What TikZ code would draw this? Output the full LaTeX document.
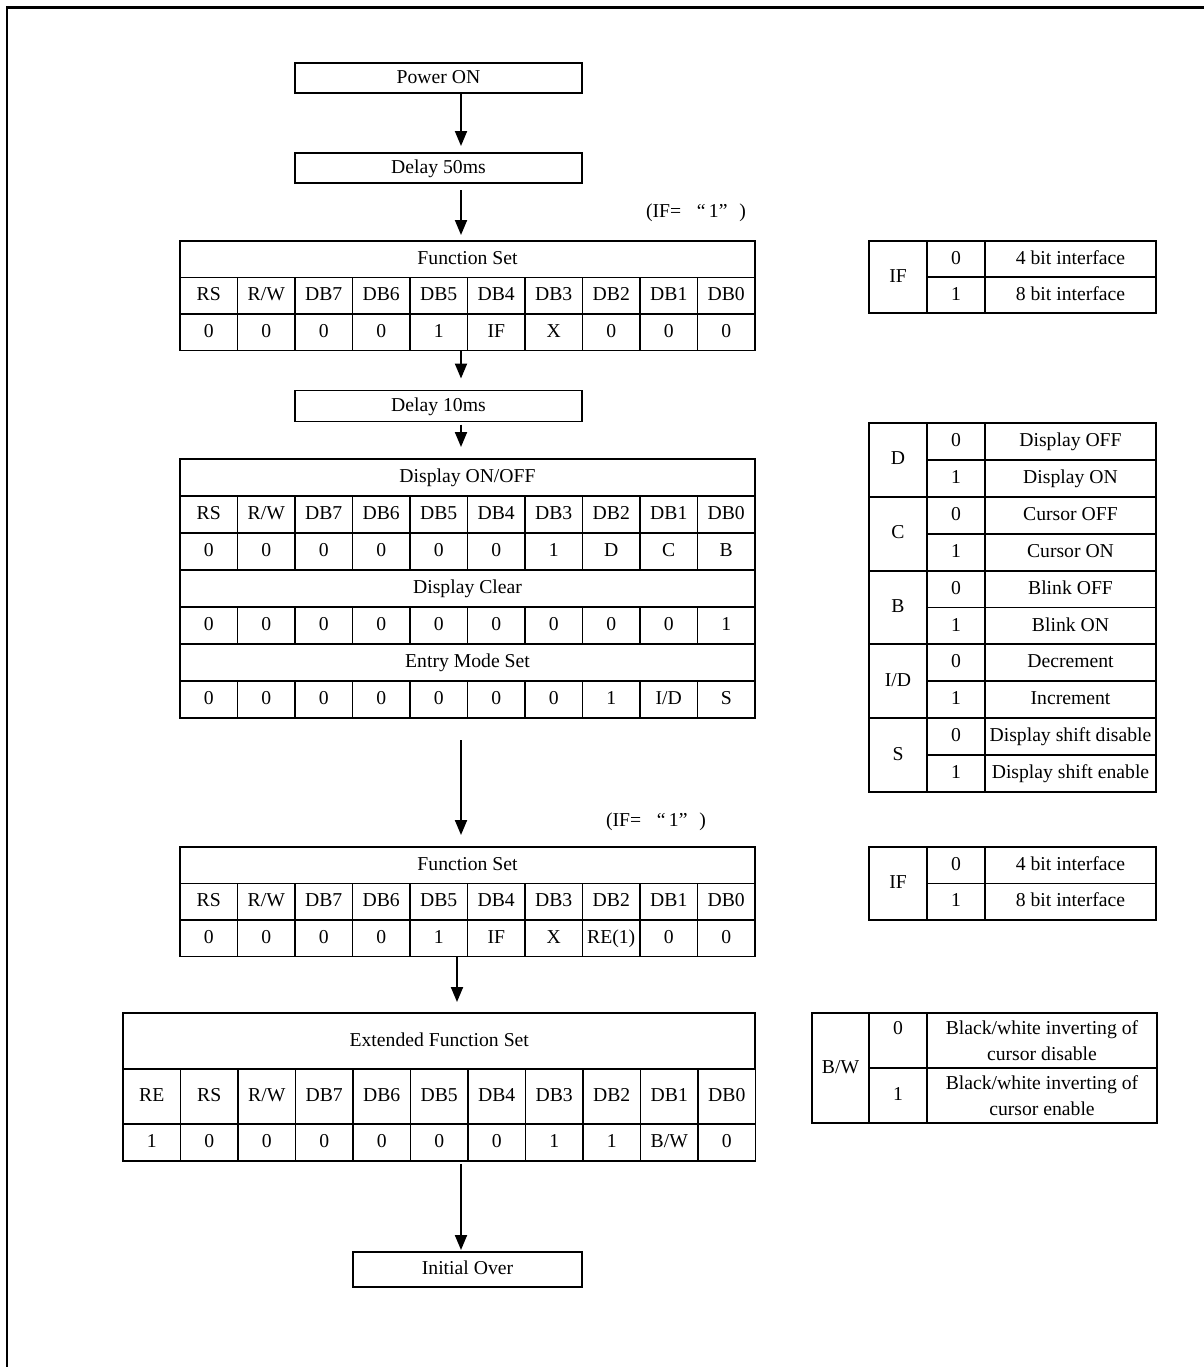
\documentclass[tikz,border=0pt]{standalone}
\usepackage{fontspec}
\setmainfont{Liberation Serif}
\usepackage{tikz}
\usetikzlibrary{arrows.meta}
\tikzset{
  frameline/.style={line width=1.7pt},
  flowarrow/.style={-{Triangle[length=0.3cm, width=0.24cm]}, line width=1.1pt},
  vfix/.style={text height=1.55ex, text depth=0.3ex},
  stepbox/.style={draw, vfix, line width=1.1pt, minimum width=5.74cm, minimum height=0.6cm, inner sep=0pt, outer sep=0pt},
  cell/.style={draw, vfix, line width=1.1pt, minimum width=1.15cm, minimum height=0.73cm, inner sep=0pt, outer sep=0pt},
  dcell/.style={cell, minimum height=0.74cm},
  keycell/.style={draw, line width=1.1pt, inner sep=0pt, outer sep=0pt, align=center},
  kcell/.style={keycell, vfix},
  ifnote/.style={inner sep=1pt}
}

\begin{document}
\begin{tikzpicture}[x=0.02cm, y=-0.02cm, every node/.style={font=\fontsize{11.2}{14.8}\selectfont}]
  \useasboundingbox (0,0) rectangle (1204,1367);
  \draw[frameline] (7,1367) -- (7,7) -- (1204,7);
  \coordinate (ax) at (461,0);
  \coordinate (ax2) at (457,0);

  % main flow
  \node[stepbox] (pwr) at (438.5,78) {Power ON};
  \node[stepbox] (dly1) at (438.5,168) {Delay 50ms};
  \node[ifnote] (ifnote1) at (696,213) {(IF=\hspace{0.8em}“\,1”\hspace{0.6em})};

  % function set (first)
  \node[cell, minimum width=11.5cm] (fs1t) at (467.5,259.25) {Function Set};
  \foreach \t [count=\i] in {RS,R/W,DB7,DB6,DB5,DB4,DB3,DB2,DB1,DB0}
    \node[cell] (fs1h\i) at ({151.25+57.5*\i},295.75) {\t};
  \foreach \t [count=\i] in {0,0,0,0,1,IF,X,0,0,0}
    \node[cell] (fs1v\i) at ({151.25+57.5*\i},332.25) {\t};

  \node[stepbox, minimum height=0.62cm] (dly2) at (438.5,406) {Delay 10ms};

  % display on/off, clear, entry mode
  \node[dcell, minimum width=11.5cm] (dsp) at (467.5,477.5) {Display ON/OFF};
  \foreach \t [count=\i] in {RS,R/W,DB7,DB6,DB5,DB4,DB3,DB2,DB1,DB0}
    \node[dcell] (dsph\i) at ({151.25+57.5*\i},514.5) {\t};
  \foreach \t [count=\i] in {0,0,0,0,0,0,1,D,C,B}
    \node[dcell] (dspv\i) at ({151.25+57.5*\i},551.5) {\t};
  \node[dcell, minimum width=11.5cm] (clr) at (467.5,588.5) {Display Clear};
  \foreach \t [count=\i] in {0,0,0,0,0,0,0,0,0,1}
    \node[dcell] (clrv\i) at ({151.25+57.5*\i},625.5) {\t};
  \node[dcell, minimum width=11.5cm] (ent) at (467.5,662.5) {Entry Mode Set};
  \foreach \t [count=\i] in {0,0,0,0,0,0,0,1,I/D,S}
    \node[dcell] (entv\i) at ({151.25+57.5*\i},699.5) {\t};

  \node[ifnote] (ifnote2) at (656,822) {(IF=\hspace{0.8em}“\,1”\hspace{0.6em})};

  % function set (second)
  \node[cell, minimum width=11.5cm] (fs2t) at (467.5,865.25) {Function Set};
  \foreach \t [count=\i] in {RS,R/W,DB7,DB6,DB5,DB4,DB3,DB2,DB1,DB0}
    \node[cell] (fs2h\i) at ({151.25+57.5*\i},901.75) {\t};
  \foreach \t [count=\i] in {0,0,0,0,1,IF,X,RE(1),0,0}
    \node[cell] (fs2v\i) at ({151.25+57.5*\i},938.25) {\t};

  % extended function set
  \node[cell, minimum width=12.65cm, minimum height=1.12cm] (ext) at (439.25,1041) {Extended Function Set};
  \foreach \t [count=\i] in {RE,RS,R/W,DB7,DB6,DB5,DB4,DB3,DB2,DB1,DB0}
    \node[cell, minimum height=1.1cm] (exth\i) at ({94.25+57.5*\i},1096.5) {\t};
  \foreach \t [count=\i] in {1,0,0,0,0,0,0,1,1,B/W,0}
    \node[dcell] (extv\i) at ({94.25+57.5*\i},1142.5) {\t};

  \node[stepbox, minimum width=4.58cm, minimum height=0.7cm] (done) at (467.5,1269.5) {Initial Over};

  % key tables
  \node[kcell, minimum width=1.16cm, minimum height=1.44cm] (if1k) at (898,277) {IF};
  \node[kcell, minimum width=1.16cm, minimum height=0.72cm] (if1v1) at (956,259) {0};
  \node[kcell, minimum width=1.16cm, minimum height=0.72cm] (if1v2) at (956,295) {1};
  \node[kcell, minimum width=3.42cm, minimum height=0.72cm] (if1d1) at (1070.5,259) {4 bit interface};
  \node[kcell, minimum width=3.42cm, minimum height=0.72cm] (if1d2) at (1070.5,295) {8 bit interface};

  \foreach \k [count=\i] in {D,C,B,I/D,S}
    \node[kcell, minimum width=1.16cm, minimum height=1.476cm] (dk\i) at (898,{423+73.8*(\i-0.5)}) {\k};
  \foreach \d [count=\i] in {Display OFF,Display ON,Cursor OFF,Cursor ON,Blink OFF,Blink ON,Decrement,Increment,Display shift disable,Display shift enable} {
    \pgfmathtruncatemacro\vv{mod(\i+1,2)}
    \node[kcell, minimum width=1.16cm, minimum height=0.738cm] (dv\i) at (956,{423+36.9*(\i-0.5)}) {\vv};
    \node[kcell, minimum width=3.42cm, minimum height=0.738cm] (dd\i) at (1070.5,{423+36.9*(\i-0.5)}) {\d};
  }

  \node[kcell, minimum width=1.16cm, minimum height=1.46cm] (if2k) at (898,883.5) {IF};
  \node[kcell, minimum width=1.16cm, minimum height=0.73cm] (if2v1) at (956,865.25) {0};
  \node[kcell, minimum width=1.16cm, minimum height=0.73cm] (if2v2) at (956,901.75) {1};
  \node[kcell, minimum width=3.42cm, minimum height=0.73cm] (if2d1) at (1070.5,865.25) {4 bit interface};
  \node[kcell, minimum width=3.42cm, minimum height=0.73cm] (if2d2) at (1070.5,901.75) {8 bit interface};

  \node[kcell, minimum width=1.14cm, minimum height=2.2cm] (bwk) at (840.5,1068) {B/W};
  \node[keycell, minimum width=1.16cm, minimum height=1.1cm] (bwv1) at (898,1040.5) {0\\\mbox{}};
  \node[kcell, minimum width=1.16cm, minimum height=1.1cm] (bwv2) at (898,1095.5) {1};
  \node[keycell, minimum width=4.6cm, minimum height=1.1cm] (bwd1) at (1042,1040.5) {Black/white inverting of\\cursor disable};
  \node[keycell, minimum width=4.6cm, minimum height=1.1cm] (bwd2) at (1042,1095.5) {Black/white inverting of\\cursor enable};

  % connectors
  \draw[flowarrow, shorten >=0.14cm] (pwr.south -| ax) -- (dly1.north -| ax);
  \draw[flowarrow, shorten <=0.14cm, shorten >=0.12cm] (dly1.south -| ax) -- (fs1t.north -| ax);
  \draw[flowarrow, shorten >=0.24cm] (fs1v5.south -| ax) -- (dly2.north -| ax);
  \draw[flowarrow, shorten <=0.06cm, shorten >=0.24cm] (dly2.south -| ax) -- (dsp.north -| ax);
  \draw[flowarrow, shorten <=0.44cm, shorten >=0.24cm] (entv5.south -| ax) -- (fs2t.north -| ax);
  \draw[flowarrow, shorten >=0.22cm] (fs2v5.south -| ax2) -- (ext.north -| ax2);
  \draw[flowarrow, shorten <=0.06cm, shorten >=0.04cm] (extv6.south -| ax) -- (done.north -| ax);
\end{tikzpicture}
\end{document}
